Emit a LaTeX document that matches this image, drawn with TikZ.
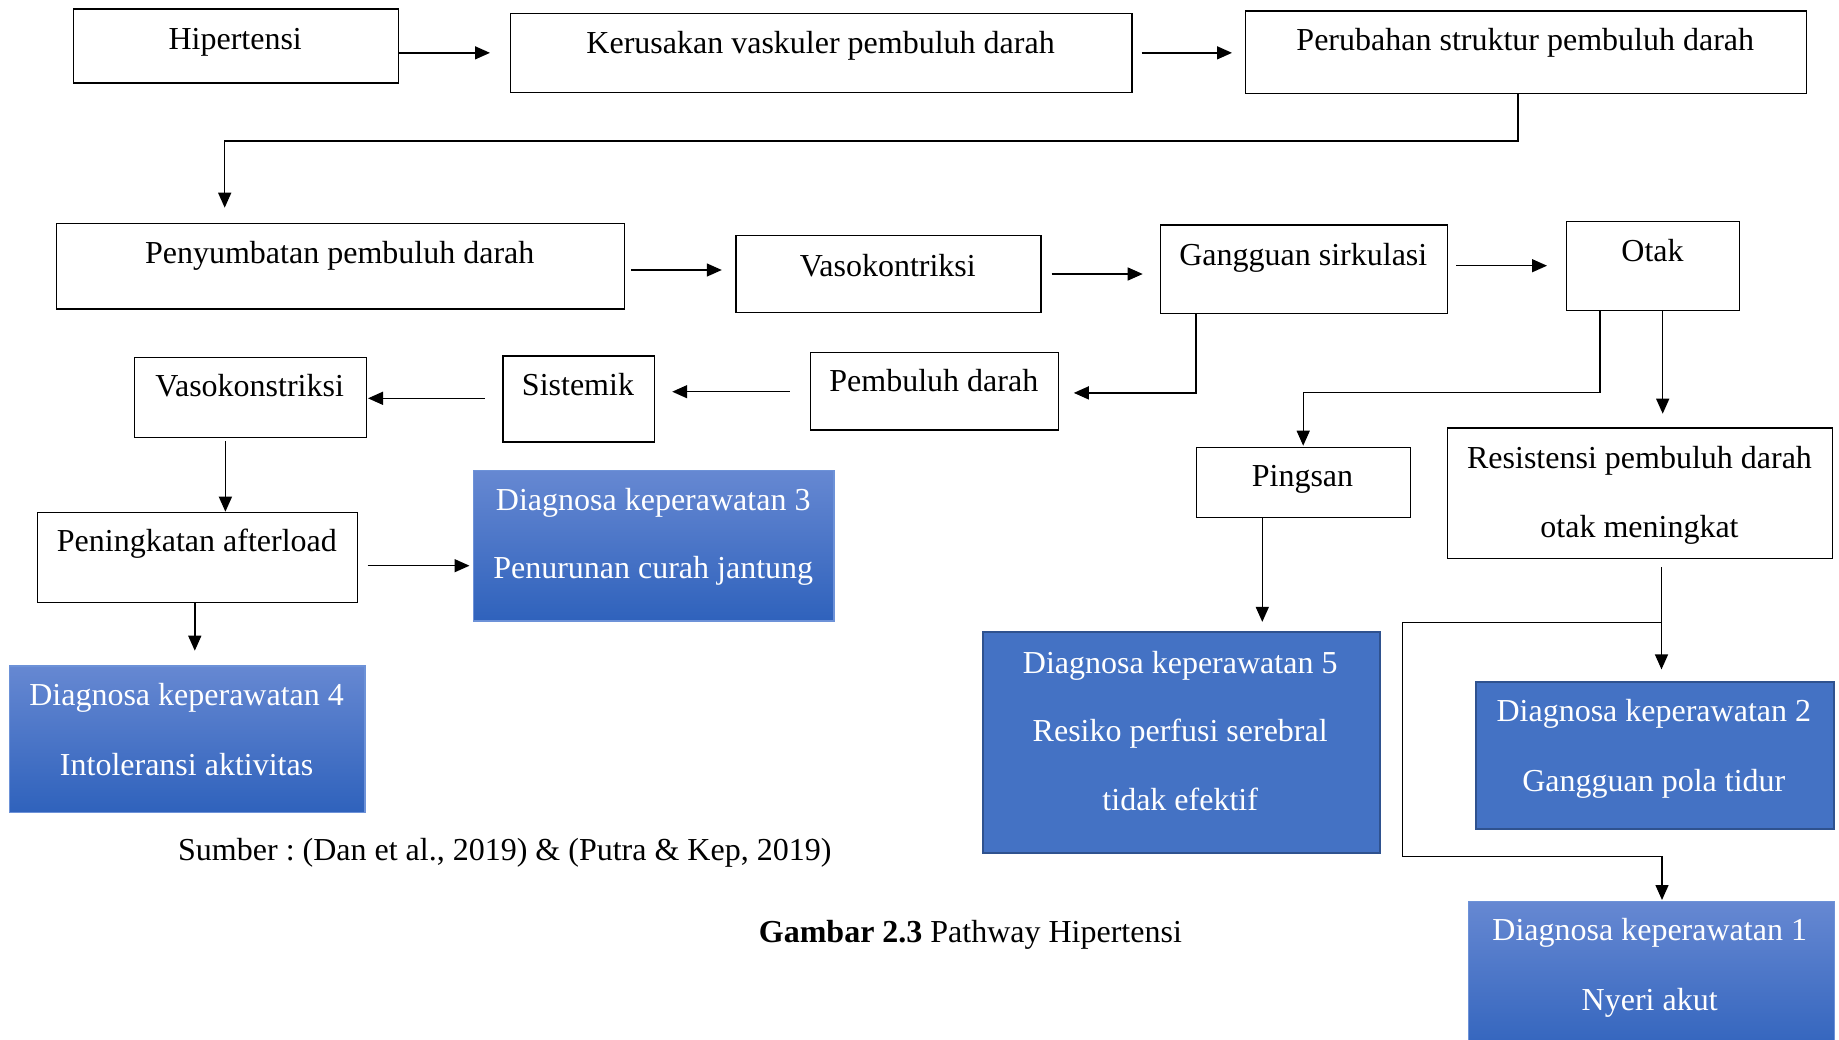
\documentclass[tikz,border=0pt]{standalone}
\usepackage{fontspec}
\setmainfont{Liberation Serif}
\usetikzlibrary{arrows.meta}
\definecolor{flatblue}{HTML}{4472C4}
\definecolor{flatedge}{HTML}{2F528F}
\definecolor{gtop}{HTML}{6688D2}
\definecolor{gbot}{HTML}{2F62BC}
\definecolor{gedge}{HTML}{6D92D8}
\tikzset{
 box/.style={draw=black, line width=1.4pt, fill=white, rectangle, inner sep=0pt, anchor=north west},
 flatdx/.style={draw=flatedge, line width=2pt, fill=flatblue, rectangle, inner sep=0pt, anchor=north west},
 graddx/.style={draw=gedge, line width=1.2pt, top color=gtop, bottom color=gbot, rectangle, inner sep=0pt, anchor=north west},
 txt/.style={font=\fontsize{32}{38}\selectfont\frenchspacing, inner sep=0pt, anchor=base},
 wtxt/.style={txt, text=white},
 arr/.style={line width=1.4pt, -{Triangle[length=15pt,width=13pt]}},
}
\newcommand\bx[6]{\node[#6, minimum width={#4-#2}, minimum height={#5-#3}] (#1) at (#2,#3) {};}
\begin{document}
\begin{tikzpicture}[x=1pt,y=-1pt]
\fill[white] (0,0) rectangle (1839,1039);
\useasboundingbox (0,0) rectangle (1839,1039);
\clip (0,0) rectangle (1839,1039);
% boxes
\bx{hip}{72.7}{8.2}{397.7}{82.1}{box}
\bx{ker}{510}{12.7}{1131.3}{91.6}{box}
\bx{per}{1244.7}{10.3}{1806}{92.7}{box}
\bx{pen}{55.7}{222.7}{623.8}{308.2}{box}
\bx{vka}{735.3}{235}{1040.2}{311.7}{box}
\bx{gan}{1159.7}{224.3}{1447}{312.7}{box}
\bx{otak}{1566}{221}{1739}{309.7}{box}
\bx{pem}{809.9}{351.7}{1057.7}{429.3}{box}
\bx{sis}{502.3}{355.3}{653.8}{441.3}{box}
\bx{vkb}{133.8}{356.7}{365.6}{436.7}{box}
\bx{ping}{1195.5}{446.7}{1409.5}{516.9}{box}
\bx{res}{1447}{427.3}{1832}{557.6}{box}
\bx{peng}{37}{511.7}{356.8}{602}{box}
\bx{dtiga}{473}{469.7}{833.3}{620.3}{graddx}
\bx{dempat}{8.8}{665.3}{364.4}{812}{graddx}
\bx{dlima}{981.5}{630.9}{1379}{851.7}{flatdx}
\bx{ddua}{1475}{680.7}{1832.6}{828.2}{flatdx}
\bx{dsatu}{1467.5}{901}{1834}{1060}{graddx}
% texts
\node[txt] (hipT) at (235.2,49.3) {Hipertensi};
\node[txt] (kerT) at (820.6,53.3) {Kerusakan vaskuler pembuluh darah};
\node[txt] (perT) at (1525.3,50.5) {Perubahan struktur pembuluh darah};
\node[txt] (penT) at (339.7,263.3) {Penyumbatan pembuluh darah};
\node[txt] (vkaT) at (887.8,276) {Vasokontriksi};
\node[txt] (ganT) at (1303.3,265) {Gangguan sirkulasi};
\node[txt] (otakT) at (1652.5,261.7) {Otak};
\node[txt] (pemT) at (933.8,391.7) {Pembuluh darah};
\node[txt] (sisT) at (578,395.7) {Sistemik};
\node[txt] (vkbT) at (249.7,396.7) {Vasokonstriksi};
\node[txt] (pingT) at (1302.5,486) {Pingsan};
\node[txt] (resTa) at (1639.5,468) {Resistensi pembuluh darah};
\node[txt] (resTb) at (1639.5,537.2) {otak meningkat};
\node[txt] (pengT) at (196.9,551.7) {Peningkatan afterload};
\node[wtxt] (dtigaTa) at (653.2,510) {Diagnosa keperawatan 3};
\node[wtxt] (dtigaTb) at (653.2,578.3) {Penurunan curah jantung};
\node[wtxt] (dempatTa) at (186.6,705.7) {Diagnosa keperawatan 4};
\node[wtxt] (dempatTb) at (186.6,775) {Intoleransi aktivitas};
\node[wtxt] (dlimaTa) at (1180.2,673.9) {Diagnosa keperawatan 5};
\node[wtxt] (dlimaTb) at (1180.2,741.8) {Resiko perfusi serebral};
\node[wtxt] (dlimaTc) at (1180.2,810.5) {tidak efektif};
\node[wtxt] (dduaTa) at (1653.8,721.4) {Diagnosa keperawatan 2};
\node[wtxt] (dduaTb) at (1653.8,791.5) {Gangguan pola tidur};
\node[wtxt] (dsatuTa) at (1649.7,940.9) {Diagnosa keperawatan 1};
\node[wtxt] (dsatuTb) at (1649.7,1010) {Nyeri akut};
\node[txt, anchor=base west] (sumber) at (178,860) {Sumber : (Dan et al., 2019) \& (Putra \& Kep, 2019)};
\node[txt, anchor=base west] (caption) at (758.7,942.3) {\bfseries Gambar 2.3\mdseries{} Pathway Hipertensi};
% connectors
\coordinate (ja) at (1518,141);
\coordinate (jb) at (224.7,141);
\coordinate (br) at (1661.5,622.3);
\draw[arr, shorten >=20pt] (hip.east |- ker.west) -- (ker.west);
\draw[arr, shorten <=9pt, shorten >=12.7pt] (ker.east) -- (ker.east -| per.west);
\draw[arr, shorten >=15pt] (per.south -| ja) -- (ja) -- (jb) -- (pen.north -| jb);
\draw[arr, shorten <=6pt, shorten >=13.5pt] (pen.east |- 0,270) -- (vka.west |- 0,270);
\draw[arr, shorten <=10pt, shorten >=17pt] (vka.east |- 0,274) -- (gan.west |- 0,274);
\draw[arr, shorten <=8pt, shorten >=19pt] (gan.east |- 0,265.7) -- (otak.west |- 0,265.7);
\draw[arr, shorten >=14.7pt] (gan.south -| 1196,0) |- (pem.east |- 0,392.9);
\draw[arr, shorten <=20pt, shorten >=17pt] (pem.west |- 0,391.7) -- (sis.east |- 0,391.7);
\draw[arr, shorten <=17.6pt, shorten >=1pt] (sis.west |- 0,398.3) -- (vkb.east |- 0,398.3);
\draw[arr, shorten <=3pt] (vkb.south -| 225.4,0) -- (peng.north -| 225.4,0);
\draw[arr, shorten <=9.4pt, shorten >=3.5pt] (peng.east |- 0,565.7) -- (dtiga.west |- 0,565.7);
\draw[arr, shorten >=14.6pt] (peng.south -| 194.8,0) -- (dempat.north -| 194.8,0);
\draw[arr, shorten >=1pt] (otak.south -| 1600,0) -- (1600,392.4) -| (ping.north);
\draw[arr, shorten >=13.6pt] (otak.south -| 1662.7,0) -- (res.north -| 1662.7,0);
\draw[arr, shorten >=9pt] (ping.south -| 1262.3,0) -- (dlima.north -| 1262.3,0);
\draw[arr, shorten <=8pt, shorten >=11.3pt] (res.south -| br) -- (ddua.north -| br);
\draw[arr, shorten >=1pt] (br) -- (1402.4,622.3) -- (1402.4,856.2) -| (dsatu.north -| 1662,0);
\end{tikzpicture}
\end{document}
